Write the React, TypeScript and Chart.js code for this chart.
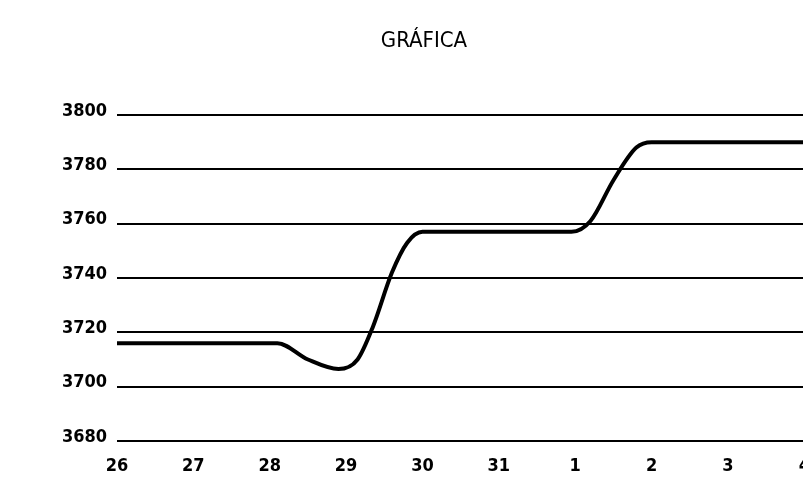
import React, { useEffect, useRef } from "react";
import { Chart, registerables } from "chart.js";

Chart.register(...registerables);

const titleText = "GRÁFICA";
const dayLabels = ["26", "27", "28", "29", "30", "31", "1", "2", "3", "4"];
const yTicks = [3680, 3700, 3720, 3740, 3760, 3780, 3800];
// curve points (x in day-index units, 0 = day 26)
const curveX = [0, 2.1, 2.5, 2.9, 3.15, 3.35, 3.6, 3.8, 4.0, 5.95, 6.2, 6.5, 6.8, 7.0, 9.3];
const curveY = [3716, 3716, 3710, 3706.5, 3710, 3722, 3742, 3753, 3757, 3757, 3761, 3776, 3788, 3790, 3790];

const FONT = "'DejaVu Sans Condensed', 'DejaVu Sans', sans-serif";

const titlePlugin = {
  id: "placedTitle",
  afterDraw(chart: any) {
    const c = chart.ctx;
    c.save();
    c.fillStyle = "#000";
    c.font = `22px ${FONT}`;
    c.textAlign = "center";
    c.textBaseline = "middle";
    c.fillText(titleText, 424, 41);
    c.restore();
  },
};

export default function App() {
  const ref = useRef<HTMLCanvasElement | null>(null);
  useEffect(() => {
    document.body.style.margin = "0";
    const ctx = ref.current!;
    const chart = new Chart(ctx, {
      type: "line",
      data: {
        datasets: [
          {
            data: curveX.map((x, i) => ({ x, y: curveY[i] })),
            borderColor: "#000",
            borderWidth: 4,
            pointRadius: 0,
            cubicInterpolationMode: "monotone",
            fill: false,
          },
        ],
      },
      options: {
        animation: false,
        responsive: false,
        maintainAspectRatio: false,
        layout: { padding: { left: 0, right: 0, top: 115, bottom: 0 } },
        plugins: {
          legend: { display: false },
          tooltip: { enabled: false },
          title: { display: false },
        },
        scales: {
          x: {
            type: "linear",
            min: 0,
            max: 9,
            afterFit: (s: any) => {
              s.height = 37;
            },
            ticks: {
              stepSize: 1,
              color: "#000",
              padding: 15,
              font: { family: FONT, size: 18, weight: "bold" },
              callback: (v: any) => dayLabels[Math.round(Number(v))] ?? "",
            },
            grid: { display: false, drawTicks: false },
            border: { display: false },
          },
          y: {
            min: 3680,
            max: 3800,
            afterFit: (s: any) => {
              s.width = 117;
            },
            afterBuildTicks: (s: any) => {
              s.ticks = yTicks.map((v) => ({ value: v }));
            },
            ticks: {
              color: "#000",
              padding: 10,
              labelOffset: -4,
              font: { family: FONT, size: 18, weight: "bold" },
              callback: (v: any) => String(v),
            },
            grid: { color: "#000", lineWidth: 2, drawTicks: false },
            border: { display: false },
          },
        },
      },
      plugins: [titlePlugin],
    });
    return () => chart.destroy();
  }, []);
  return (
    <div style={{ position: "absolute", left: 0, top: 0, width: 803, height: 478, overflow: "hidden", background: "#fff" }}>
      <canvas ref={ref} width={825} height={478} style={{ display: "block" }} />
    </div>
  );
}
